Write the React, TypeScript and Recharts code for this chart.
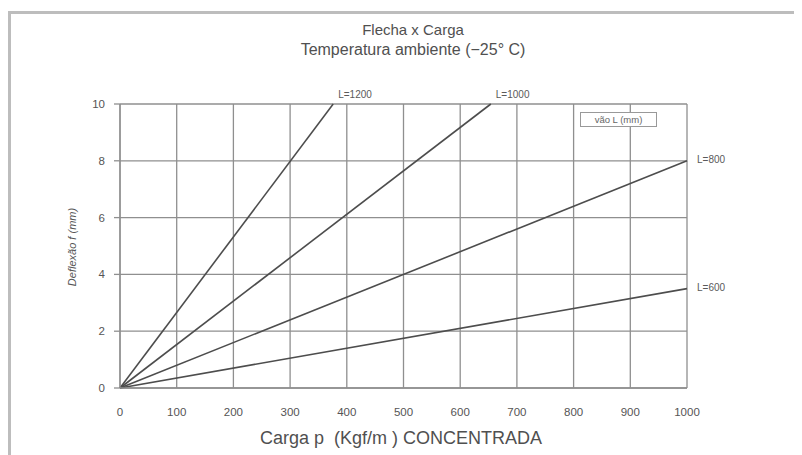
import React from "react";
import {
  LineChart,
  Line,
  XAxis,
  YAxis,
  CartesianGrid,
  LabelList,
} from "recharts";

// vão L (mm) — each line runs from the origin to its last readable point
const spanNames = ["L=600", "L=800", "L=1000", "L=1200"];
const endLoads = [1000, 1000, 654, 376];
const endDeflections = [3.5, 8, 10, 10];

const loadTicks = [0, 100, 200, 300, 400, 500, 600, 700, 800, 900, 1000];
const deflectionTicks = [0, 2, 4, 6, 8, 10];

const FONT = "'Liberation Sans', Arial, sans-serif";
const GRID = "#8f8f8f";
const INK = "#505050";

const series = spanNames.map((name, i) => ({
  name,
  points: [
    { load: 0, f: 0 },
    { load: endLoads[i], f: endDeflections[i] },
  ],
}));

function endLabel(name: string) {
  return (props: any) => {
    const { x, y, index } = props;
    if (index !== 1) return null;
    const onTop = props.value >= 10;
    return (
      <text
        x={onTop ? x + 5 : x + 10}
        y={onTop ? y - 6 : y}
        dominantBaseline={onTop ? "auto" : "middle"}
        fontSize={10}
        fill="#5a5a5a"
        fontFamily={FONT}
      >
        {name}
      </text>
    );
  };
}

export default function App() {
  return (
    <div
      style={{
        position: "relative",
        width: 794,
        height: 447,
        overflow: "hidden",
        fontFamily: FONT,
        background: "#fff",
      }}
    >
      <div
        style={{
          position: "absolute",
          left: 0,
          top: 3,
          width: 820,
          height: 480,
          border: "3px solid #bdbdbd",
          boxSizing: "border-box",
        }}
      />
      <div
        style={{
          position: "absolute",
          left: 0,
          width: 810,
          top: 12,
          textAlign: "center",
          color: INK,
          fontSize: 15,
          lineHeight: "20px",
        }}
      >
        <div>Flecha x Carga</div>
        <div style={{ fontSize: 16 }}>Temperatura ambiente (−25° C)</div>
      </div>

      <LineChart
        width={794}
        height={447}
        margin={{ top: 96, right: 115, bottom: 37, left: 72 }}
        style={{ position: "absolute", left: 0, top: 0 }}
      >
        <CartesianGrid stroke={GRID} strokeWidth={1.3} />
        <XAxis
          dataKey="load"
          type="number"
          domain={[0, 1000]}
          ticks={loadTicks}
          interval={0}
          height={30}
          tickLine={false}
          tickMargin={14}
          axisLine={{ stroke: GRID, strokeWidth: 1.3 }}
          tick={{ fontSize: 11.5, fill: "#555", fontFamily: FONT }}
          allowDuplicatedCategory={false}
        />
        <YAxis
          type="number"
          domain={[0, 10]}
          ticks={deflectionTicks}
          interval={0}
          width={40}
          tickSize={6}
          tickMargin={9}
          tickLine={{ stroke: GRID, strokeWidth: 1.3 }}
          axisLine={{ stroke: GRID, strokeWidth: 1.3 }}
          tick={{ fontSize: 11.5, fill: "#555", fontFamily: FONT }}
        />
        {series.map((s) => (
          <Line
            key={s.name}
            data={s.points}
            dataKey="f"
            type="linear"
            stroke="#4d4d4d"
            strokeWidth={1.6}
            dot={false}
            isAnimationActive={false}
          >
            <LabelList dataKey="f" content={endLabel(s.name)} />
          </Line>
        ))}
      </LineChart>

      <div
        style={{
          position: "absolute",
          left: 572,
          top: 104,
          width: 75,
          height: 13,
          border: "1px solid #999",
          background: "#fff",
          fontSize: 9.5,
          lineHeight: "13px",
          textAlign: "center",
          color: "#666",
        }}
      >
        vão L (mm)
      </div>

      <div
        style={{
          position: "absolute",
          left: 64,
          top: 239,
          transform: "translate(-50%, -50%) rotate(-90deg)",
          whiteSpace: "nowrap",
          fontSize: 11,
          fontStyle: "italic",
          color: "#555",
        }}
      >
        Deflexão <span>f</span> (mm)
      </div>

      <div
        style={{
          position: "absolute",
          left: 0,
          width: 786,
          top: 420,
          textAlign: "center",
          fontSize: 18,
          color: INK,
        }}
      >
        Carga p&nbsp; (Kgf/m ) CONCENTRADA
      </div>
    </div>
  );
}
